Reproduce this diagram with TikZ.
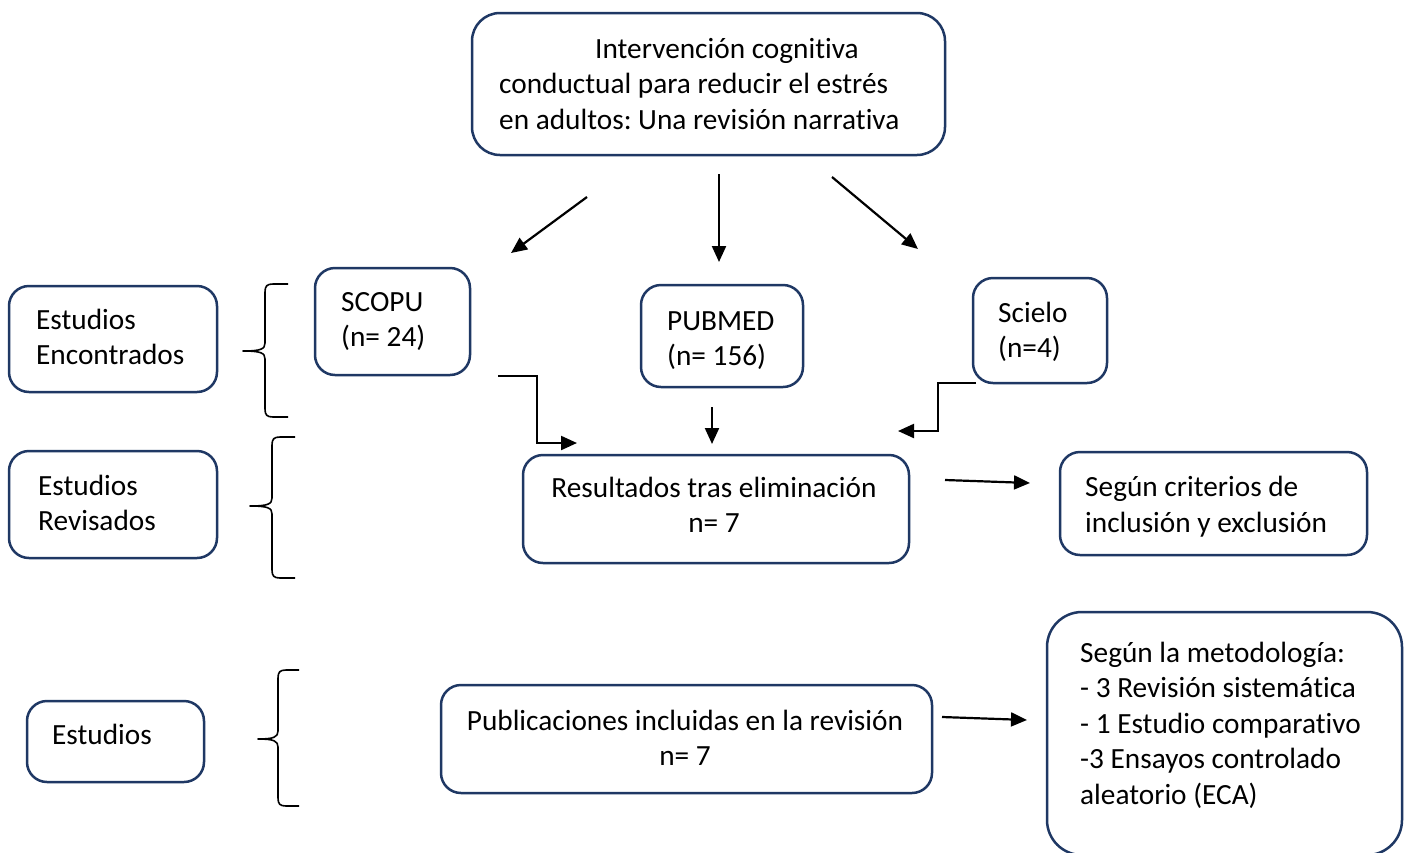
\documentclass[tikz,border=0pt]{standalone}
\usepackage{fontspec}
\setmainfont{Carlito}[Ligatures=NoCommon]
\usetikzlibrary{arrows.meta}
\definecolor{navy}{RGB}{31,56,100}
\frenchspacing
\newcommand{\mybrace}[6]{% tip x, tip y, vertical x, top, bottom, right x
  \draw[bracestyle] (#6,#4) -- (#3+8,#4) .. controls (#3+2,#4) and (#3,#4+2) .. (#3,#4+8)
    -- (#3,#2-8) .. controls (#3,#2-2) and (#3-4,#2) .. (#1,#2)
    .. controls (#3-4,#2) and (#3,#2+2) .. (#3,#2+8)
    -- (#3,#5-8) .. controls (#3,#5-2) and (#3+2,#5) .. (#3+8,#5) -- (#6,#5);}
\begin{document}
\begin{tikzpicture}[x=1pt,y=-1pt,
  box/.style={draw=navy, line width=2.5pt, rounded corners=20pt, inner sep=0pt, fill=white},
  txt/.style={font=\fontsize{29.3}{35.5}\selectfont\frenchspacing, inner sep=0pt, align=left, anchor=base west},
  ctxt/.style={font=\fontsize{29.3}{35.5}\selectfont\frenchspacing, inner sep=0pt, align=center, anchor=base},
  arr/.style={line width=2.2pt, -{Triangle[length=16pt,width=14pt]}},
  bracestyle/.style={line width=1.6pt, line join=round}]
\clip (0,0) rectangle (1411,852);
\fill[white] (0,0) rectangle (1411,852);

% boxes
\node[box, rounded corners=28pt, minimum width=473pt, minimum height=142pt] (title) at (708.5,84) {};
\node[box, minimum width=208pt, minimum height=106pt] (enc) at (113,339) {};
\node[box, minimum width=208pt, minimum height=107pt] (rev) at (113,504.5) {};
\node[box, minimum width=177pt, minimum height=81pt] (est) at (115.5,741.5) {};
\node[box, minimum width=155pt, minimum height=107pt] (scopu) at (392.5,321.5) {};
\node[box, minimum width=162pt, minimum height=102pt] (pubmed) at (722,336) {};
\node[box, minimum width=134pt, minimum height=105pt] (scielo) at (1040,330.5) {};
\node[box, minimum width=386pt, minimum height=108pt] (res) at (716,509) {};
\node[box, minimum width=307pt, minimum height=103pt] (crit) at (1213.5,503.5) {};
\node[box, minimum width=491pt, minimum height=108pt] (pub) at (686.5,739) {};
\node[box, rounded corners=35pt, minimum width=355pt, minimum height=243pt] (met) at (1224.5,733.5) {};

% texts (base anchor = baseline of the last line)
\node[txt] (ttitle) at (499,129) {\hspace*{96pt}Intervención cognitiva\\conductual para reducir el estrés\\en adultos: Una revisión narrativa};
\node[txt] (tenc) at (36,364.5) {Estudios\\Encontrados};
\node[txt] (trev) at (38,530.5) {Estudios\\Revisados};
\node[txt] (test) at (52,744) {Estudios};
\node[txt] (tscopu) at (341,346.5) {SCOPU\\(n= 24)};
\node[txt] (tpubmed) at (667,365.5) {PUBMED\\(n= 156)};
\node[txt] (tscielo) at (998,357.5) {Scielo\\(n=4)};
\node[ctxt] (tres) at (714,532.5) {Resultados tras eliminación\\n= 7};
\node[txt] (tcrit) at (1085,532) {Según criterios de\\inclusión y exclusión};
\node[ctxt] (tpub) at (685,765.5) {Publicaciones incluidas en la revisión\\n= 7};
\node[txt] (tmet) at (1080,804) {Según la metodología:\\- 3 Revisión sistemática\\- 1 Estudio comparativo\\-3 Ensayos controlado\\aleatorio (ECA)};

% braces
\mybrace{243}{351}{265}{284}{417}{288}
\mybrace{250}{506}{272}{437}{578}{295}
\mybrace{258}{739}{278}{670}{806}{299}

% connector end points
\coordinate (a1s) at (587,197); \coordinate (a1e) at (511,253);
\coordinate (a2s) at (719,174); \coordinate (a2e) at (719,262);
\coordinate (a3s) at (832,177); \coordinate (a3e) at (918,249);
\coordinate (a4s) at (498,376); \coordinate (a4e) at (577,443);
\coordinate (a5s) at (712,407); \coordinate (a5e) at (712,444);
\coordinate (a6s) at (976,383); \coordinate (a6e) at (898,431);
\coordinate (a7s) at (945,480); \coordinate (a7e) at (1030,483);
\coordinate (a8s) at (942,717); \coordinate (a8e) at (1027,720);

\draw[arr] (a1s) -- (a1e);
\draw[arr] (a2s) -- (a2e);
\draw[arr] (a3s) -- (a3e);
\draw[arr] (a4s) -- (537,376) -- (537,443) -- (a4e);
\draw[arr] (a5s) -- (a5e);
\draw[arr] (a6s) -- (938,383) -- (938,431) -- (a6e);
\draw[arr] (a7s) -- (a7e);
\draw[arr] (a8s) -- (a8e);
\end{tikzpicture}
\end{document}
